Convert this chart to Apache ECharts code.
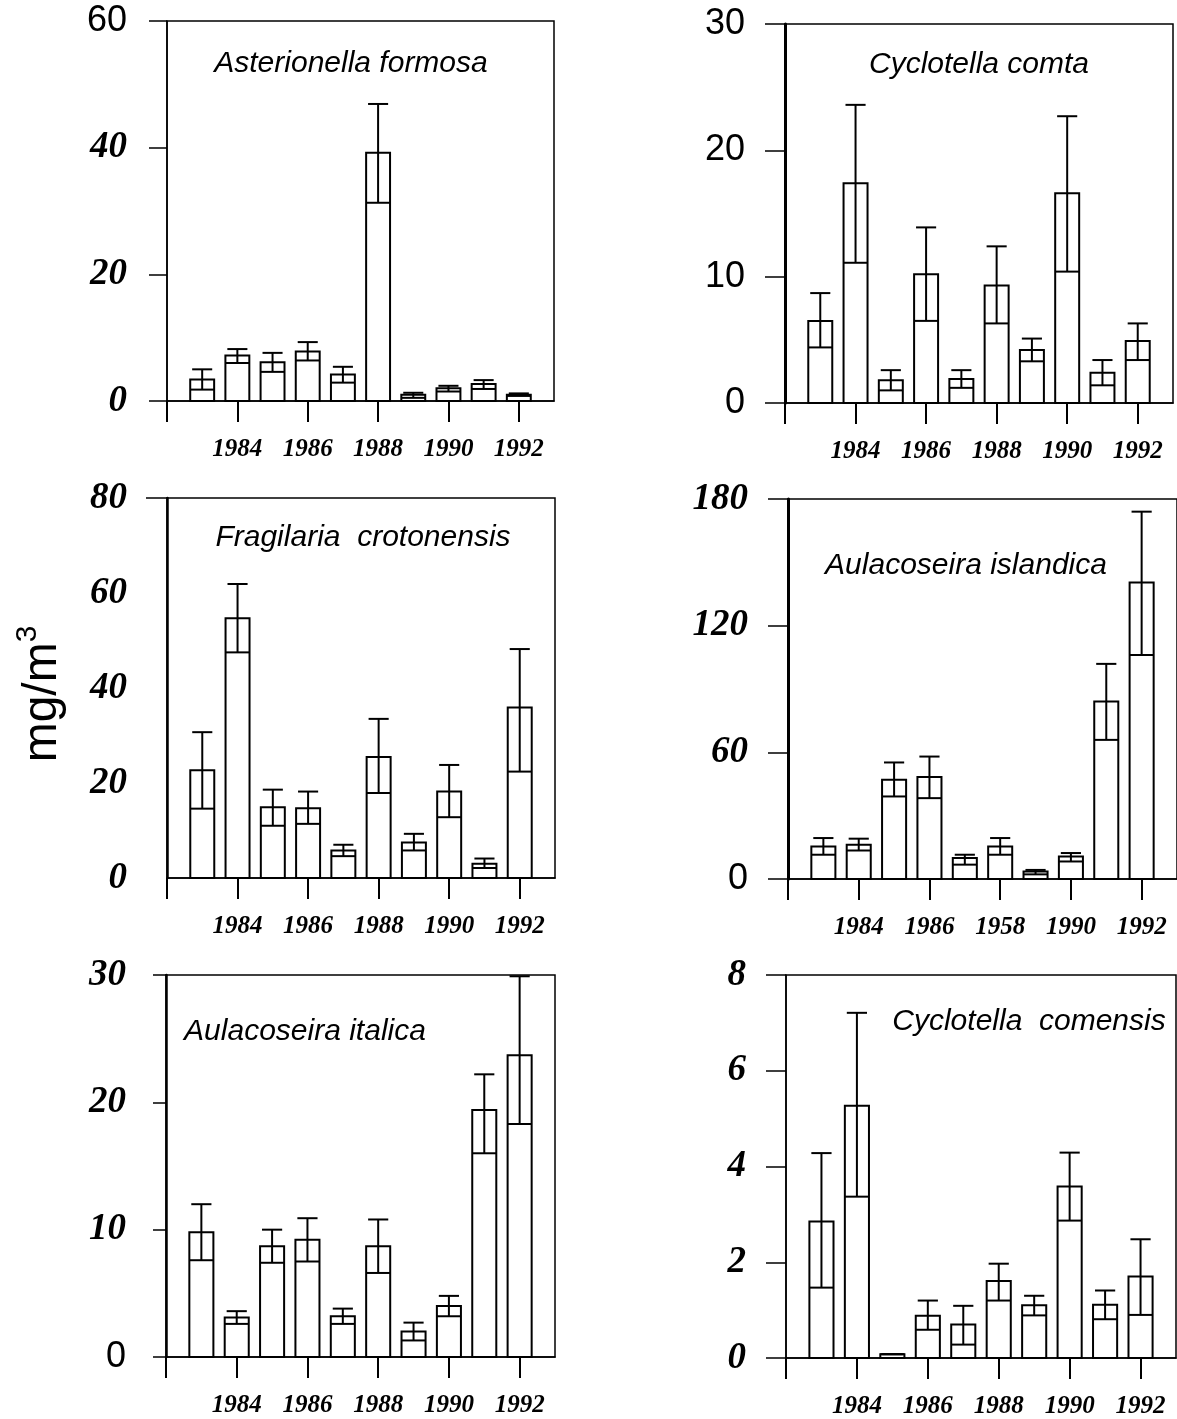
<!DOCTYPE html>
<html>
<head>
<meta charset="utf-8">
<title>Diatom biomass 1983–1992</title>
<script src="https://cdn.jsdelivr.net/npm/echarts@6/dist/echarts.min.js"></script>
<style>
  html, body { margin: 0; padding: 0; background: #fff; }
  #chart { width: 1177px; height: 1419px; }
</style>
</head>
<body>
<div id="chart"></div>
<script>
// Sampling years (one bar per year)
const years = [1983, 1984, 1985, 1986, 1987, 1988, 1989, 1990, 1991, 1992];

// Year ticks along the bottom axis and their printed labels
const yearTicks = [1982, 1984, 1986, 1988, 1990, 1992];
const yearLabelValues = [1984, 1986, 1988, 1990, 1992];
const yearLabels = ['1984', '1986', '1988', '1990', '1992'];
const yearLabelsIslandica = ['1984', '1986', '1958', '1990', '1992'];

// Mean biomass (mg/m3) with lower / upper error limits, per species
const asterionellaMean = [3.4, 7.2, 6.1, 7.8, 4.2, 39.2, 1.0, 2.0, 2.7, 1.0];
const asterionellaLow  = [1.8, 6.0, 4.6, 6.4, 2.9, 31.3, 0.5, 1.5, 1.9, 0.8];
const asterionellaHigh = [5.0, 8.2, 7.6, 9.3, 5.4, 46.9, 1.3, 2.4, 3.3, 1.2];

const comtaMean = [6.5, 17.4, 1.8, 10.2, 1.9, 9.3, 4.2, 16.6, 2.4, 4.9];
const comtaLow  = [4.4, 11.1, 1.0, 6.5, 1.2, 6.3, 3.3, 10.4, 1.4, 3.4];
const comtaHigh = [8.7, 23.6, 2.6, 13.9, 2.6, 12.4, 5.1, 22.7, 3.4, 6.3];

const crotonensisMean = [22.7, 54.7, 14.9, 14.7, 5.8, 25.5, 7.5, 18.2, 3.0, 35.9];
const crotonensisLow  = [14.6, 47.5, 11.0, 11.4, 4.6, 17.9, 5.8, 12.8, 2.1, 22.4];
const crotonensisHigh = [30.7, 61.9, 18.6, 18.2, 7.0, 33.5, 9.3, 23.8, 4.1, 48.2];

const islandicaMean = [15.4, 16.2, 47.0, 48.3, 9.9, 15.4, 3.5, 10.7, 84.1, 140.4];
const islandicaLow  = [11.5, 13.5, 39.1, 38.3, 6.8, 11.5, 2.2, 8.3, 65.9, 106.1];
const islandicaHigh = [19.4, 19.1, 55.2, 58.0, 11.5, 19.4, 4.3, 12.3, 101.9, 174.0];

const italicaMean = [9.8, 3.1, 8.7, 9.2, 3.2, 8.7, 2.0, 4.0, 19.4, 23.7];
const italicaLow  = [7.6, 2.6, 7.4, 7.5, 2.6, 6.6, 1.3, 3.2, 16.0, 18.3];
const italicaHigh = [12.0, 3.6, 10.0, 10.9, 3.8, 10.8, 2.7, 4.8, 22.2, 29.9];

const comensisMean = [2.85, 5.27, 0.08, 0.88, 0.70, 1.61, 1.10, 3.58, 1.11, 1.70];
const comensisLow  = [1.47, 3.37, 0.08, 0.59, 0.28, 1.20, 0.89, 2.87, 0.81, 0.90];
const comensisHigh = [4.28, 7.21, 0.08, 1.20, 1.09, 1.97, 1.30, 4.29, 1.41, 2.48];

const SANS = "'Liberation Sans', Arial, Helvetica, sans-serif";
const SERIF = "'Liberation Serif', 'Times New Roman', 'DejaVu Serif', serif";

// Panel layout: pixel box of each plot area, axis range and styling
const panels = [
  { name: 'Asterionella formosa', mean: asterionellaMean, low: asterionellaLow, high: asterionellaHigh,
    box: { left: 167, top: 21, width: 387, height: 380 }, max: 60, step: 20,
    sansLabels: [60], tickLen: 18, axisWidth: 1.5, labels: yearLabels,
    title: { x: 351, y: 64 } },
  { name: 'Cyclotella comta', mean: comtaMean, low: comtaLow, high: comtaHigh,
    box: { left: 785, top: 24, width: 388, height: 379 }, max: 30, step: 10,
    sansLabels: [0, 10, 20, 30], tickLen: 20, axisWidth: 3, labels: yearLabels,
    title: { x: 979, y: 65 } },
  { name: 'Fragilaria  crotonensis', mean: crotonensisMean, low: crotonensisLow, high: crotonensisHigh,
    box: { left: 167, top: 498, width: 388, height: 380 }, max: 80, step: 20,
    sansLabels: [], tickLen: 21, tickValues: [80], axisWidth: 2.5, labels: yearLabels,
    title: { x: 363, y: 538 } },
  { name: 'Aulacoseira islandica', mean: islandicaMean, low: islandicaLow, high: islandicaHigh,
    box: { left: 788, top: 499, width: 389, height: 380 }, max: 180, step: 60,
    sansLabels: [0], tickLen: 20, axisWidth: 3, labels: yearLabelsIslandica,
    title: { x: 966, y: 566 } },
  { name: 'Aulacoseira italica', mean: italicaMean, low: italicaLow, high: italicaHigh,
    box: { left: 166, top: 975, width: 389, height: 382 }, max: 30, step: 10,
    sansLabels: [0], tickLen: 13, axisWidth: 2.5, labels: yearLabels,
    title: { x: 305, y: 1032 } },
  { name: 'Cyclotella  comensis', mean: comensisMean, low: comensisLow, high: comensisHigh,
    box: { left: 786, top: 975, width: 390, height: 383 }, max: 8, step: 2,
    sansLabels: [], tickLen: 20, axisWidth: 1.5, labels: yearLabels,
    title: { x: 1029, y: 1022 } }
];

// Bar with an error whisker: outline box to the mean, a line across the box
// at the lower limit, and a capped stem up to the upper limit.
function renderBar(params, api) {
  const x = api.value(0);
  const base = api.coord([x, 0]);
  const top = api.coord([x, api.value(1)]);
  const lo = api.coord([x, api.value(2)]);
  const hi = api.coord([x, api.value(3)]);
  const bw = api.size([0.68, 0])[0];
  const cw = api.size([0.57, 0])[0];
  const stroke = { stroke: '#000', lineWidth: 2, fill: null };
  return {
    type: 'group',
    children: [
      { type: 'rect', shape: { x: base[0] - bw / 2, y: top[1], width: bw, height: base[1] - top[1] },
        style: { fill: '#fff', stroke: '#000', lineWidth: 2 } },
      { type: 'line', shape: { x1: base[0] - bw / 2, y1: lo[1], x2: base[0] + bw / 2, y2: lo[1] }, style: stroke },
      { type: 'line', shape: { x1: base[0], y1: lo[1], x2: base[0], y2: hi[1] }, style: stroke },
      { type: 'line', shape: { x1: base[0] - cw / 2, y1: hi[1], x2: base[0] + cw / 2, y2: hi[1] }, style: stroke }
    ]
  };
}

const grid = [], xAxis = [], yAxis = [], series = [], graphic = [];

panels.forEach((p, i) => {
  grid.push(Object.assign({ show: true, borderColor: '#000', borderWidth: 1.5,
    backgroundColor: 'transparent', containLabel: false }, p.box));

  const labelMap = {};
  yearLabelValues.forEach((v, k) => { labelMap[v] = p.labels[k]; });

  xAxis.push({
    type: 'value', gridIndex: i, min: 1982, max: 1993,
    axisLine: { show: true, lineStyle: { color: '#000', width: 1.5 } },
    axisTick: { show: true, customValues: yearTicks, length: 21, inside: false,
      lineStyle: { color: '#000', width: 2 } },
    axisLabel: { show: true, customValues: yearLabelValues, margin: 36,
      formatter: v => labelMap[v] || '',
      color: '#000', fontFamily: SERIF, fontSize: 25, fontStyle: 'italic', fontWeight: 'bold' },
    splitLine: { show: false }
  });

  const sansSet = new Set(p.sansLabels);
  const yTick = { show: true, length: p.tickLen, inside: false,
    lineStyle: { color: '#000', width: 1.5 } };
  if (p.tickValues) yTick.customValues = p.tickValues;
  yAxis.push({
    type: 'value', gridIndex: i, min: 0, max: p.max, interval: p.step,
    axisLine: { show: true, lineStyle: { color: '#000', width: p.axisWidth } },
    axisTick: yTick,
    axisLabel: {
      show: true, margin: 40, align: 'right',
      formatter: v => sansSet.has(v) ? '{s|' + v + '}' : '{b|' + v + '}',
      rich: {
        s: { fontFamily: SANS, fontSize: 36, color: '#000', fontWeight: 'normal', fontStyle: 'normal' },
        b: { fontFamily: SERIF, fontSize: 37, color: '#000', fontWeight: 'bold', fontStyle: 'italic' }
      }
    },
    splitLine: { show: false }
  });

  series.push({
    type: 'custom', xAxisIndex: i, yAxisIndex: i,
    renderItem: renderBar,
    encode: { x: 0, y: [1, 2, 3] },
    data: years.map((yr, k) => [yr, p.mean[k], p.low[k], p.high[k]]),
    silent: true, animation: false
  });

  graphic.push({
    type: 'text', x: p.title.x, y: p.title.y, silent: true,
    style: { text: p.name, fill: '#000', font: 'italic 30px ' + SANS,
      align: 'center', verticalAlign: 'middle' }
  });
});

// Shared y-axis unit, with a raised exponent
graphic.push({
  type: 'text', x: 40, y: 694, rotation: Math.PI / 2, silent: true,
  style: {
    text: '{u|mg/m}{e|3}', fill: '#000', align: 'center', verticalAlign: 'middle',
    rich: {
      u: { fontFamily: SANS, fontSize: 48, fill: '#000', verticalAlign: 'bottom', lineHeight: 54 },
      e: { fontFamily: SANS, fontSize: 30, fill: '#000', verticalAlign: 'top', lineHeight: 30 }
    }
  }
});

const chart = echarts.init(document.getElementById('chart'), null, { renderer: 'canvas' });
chart.setOption({
  backgroundColor: '#fff',
  animation: false,
  grid, xAxis, yAxis, series, graphic
});
</script>
</body>
</html>
